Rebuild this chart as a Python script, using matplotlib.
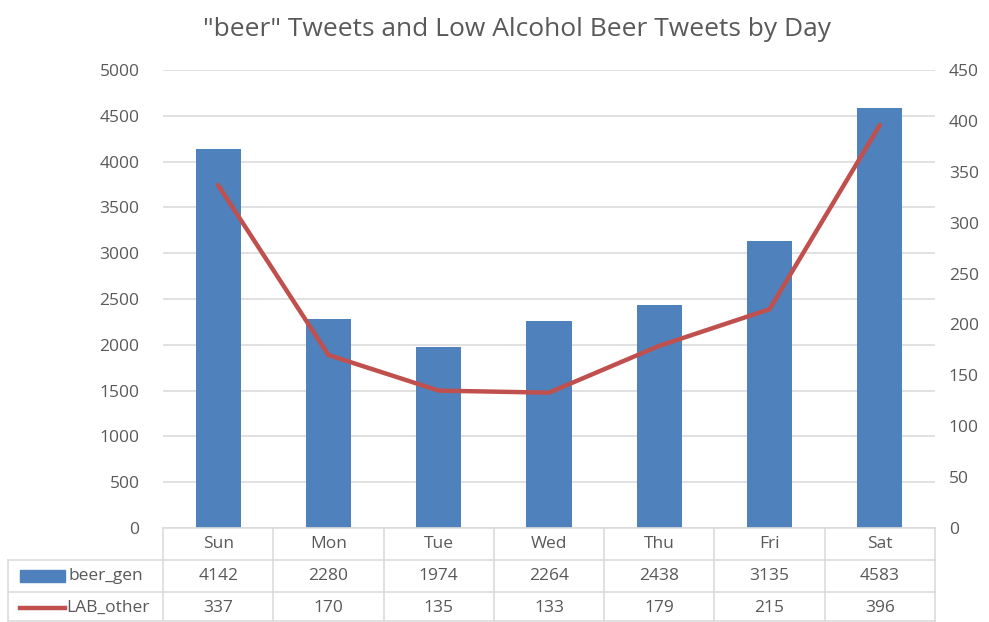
import numpy as np
import matplotlib.pyplot as plt
from matplotlib.patches import Rectangle
from matplotlib.lines import Line2D
from matplotlib.transforms import blended_transform_factory

plt.rcParams['font.family'] = ['Open Sans', 'DejaVu Sans']

days = ['Sun', 'Mon', 'Tue', 'Wed', 'Thu', 'Fri', 'Sat']
beer_gen = [4142, 2280, 1974, 2264, 2438, 3135, 4583]
lab_other = [337, 170, 135, 133, 179, 215, 396]
series_names = ['beer_gen', 'LAB_other']

bar_color = '#4F81BD'
line_color = '#C0504D'
text_color = '#595959'
grid_color = '#DCDCDC'

fig = plt.figure(figsize=(9.89, 6.22), dpi=100)
ax = fig.add_axes([0.1648, 0.1511, 0.7806, 0.7363])
ax2 = ax.twinx()

x = np.arange(len(days))
ax.bar(x, beer_gen, width=0.41, color=bar_color, zorder=2)
ax2.plot(x, lab_other, color=line_color, linewidth=3.2, solid_capstyle='round', zorder=3)

ax.set_xlim(-0.5, len(days) - 0.5)
ax.set_ylim(0, 5000)
ax.set_yticks(np.arange(0, 5001, 500))
ax2.set_ylim(0, 450)
ax2.set_yticks(np.arange(0, 451, 50))
ax.set_xticks([])
ax.yaxis.grid(True, color=grid_color, linewidth=1.2, zorder=0)
ax.set_axisbelow(True)

for a in (ax, ax2):
    for s in a.spines.values():
        s.set_visible(False)
    a.tick_params(axis='y', length=0, labelsize=12.5, labelcolor=text_color)
ax.tick_params(axis='y', pad=17)
ax2.tick_params(axis='y', pad=10)

fig.text(0.523, 0.953, '"beer" Tweets and Low Alcohol Beer Tweets by Day',
         ha='center', va='center', fontsize=19, color=text_color)

# data table under the plot
trans = blended_transform_factory(ax.transData, ax.transAxes)
row_h = 32 / (0.7363 * 622)
n = len(days)
x_left_fig = 8 / 989
edges = np.arange(n + 1) - 0.5

# table grid
ax.plot([-0.5, n - 0.5], [0, 0], transform=trans, color=grid_color, lw=1.2, clip_on=False)
for r in (1, 2):
    yy = 0.1511 - r * row_h * 0.7363
    fig.add_artist(Line2D([x_left_fig, 0.9454], [yy, yy], color=grid_color, lw=1.2))
fig.add_artist(Line2D([x_left_fig, 0.9454], [0.002, 0.002], color=grid_color, lw=1.2))
for e in edges:
    ax.plot([e, e], [0, -3 * row_h], transform=trans, color=grid_color, lw=1.2, clip_on=False)
fig.add_artist(Line2D([x_left_fig, x_left_fig], [0.002, 0.1511 - row_h * 0.7363],
                      color=grid_color, lw=1.2))

rows = [days, beer_gen, lab_other]
for r, vals in enumerate(rows):
    yc = -(r + 0.5) * row_h
    for i, v in enumerate(vals):
        ax.text(i, yc, str(v), transform=trans, ha='center', va='center',
                fontsize=12.5, color=text_color)

# legend keys in the row headers
y1 = 0.1511 - 1.5 * row_h * 0.7363
y2 = 0.1511 - 2.5 * row_h * 0.7363
fig.add_artist(Rectangle((20 / 989, y1 - 6 / 622), 45 / 989, 12 / 622,
                         color=bar_color, transform=fig.transFigure))
fig.add_artist(Line2D([20 / 989, 65 / 989], [y2, y2], color=line_color, lw=3.2))
fig.text(68 / 989, y1, series_names[0], ha='left', va='center', fontsize=12.5, color=text_color)
fig.text(66 / 989, y2, series_names[1], ha='left', va='center', fontsize=12.5, color=text_color)

fig.savefig('out.png', dpi=100, facecolor='white')
